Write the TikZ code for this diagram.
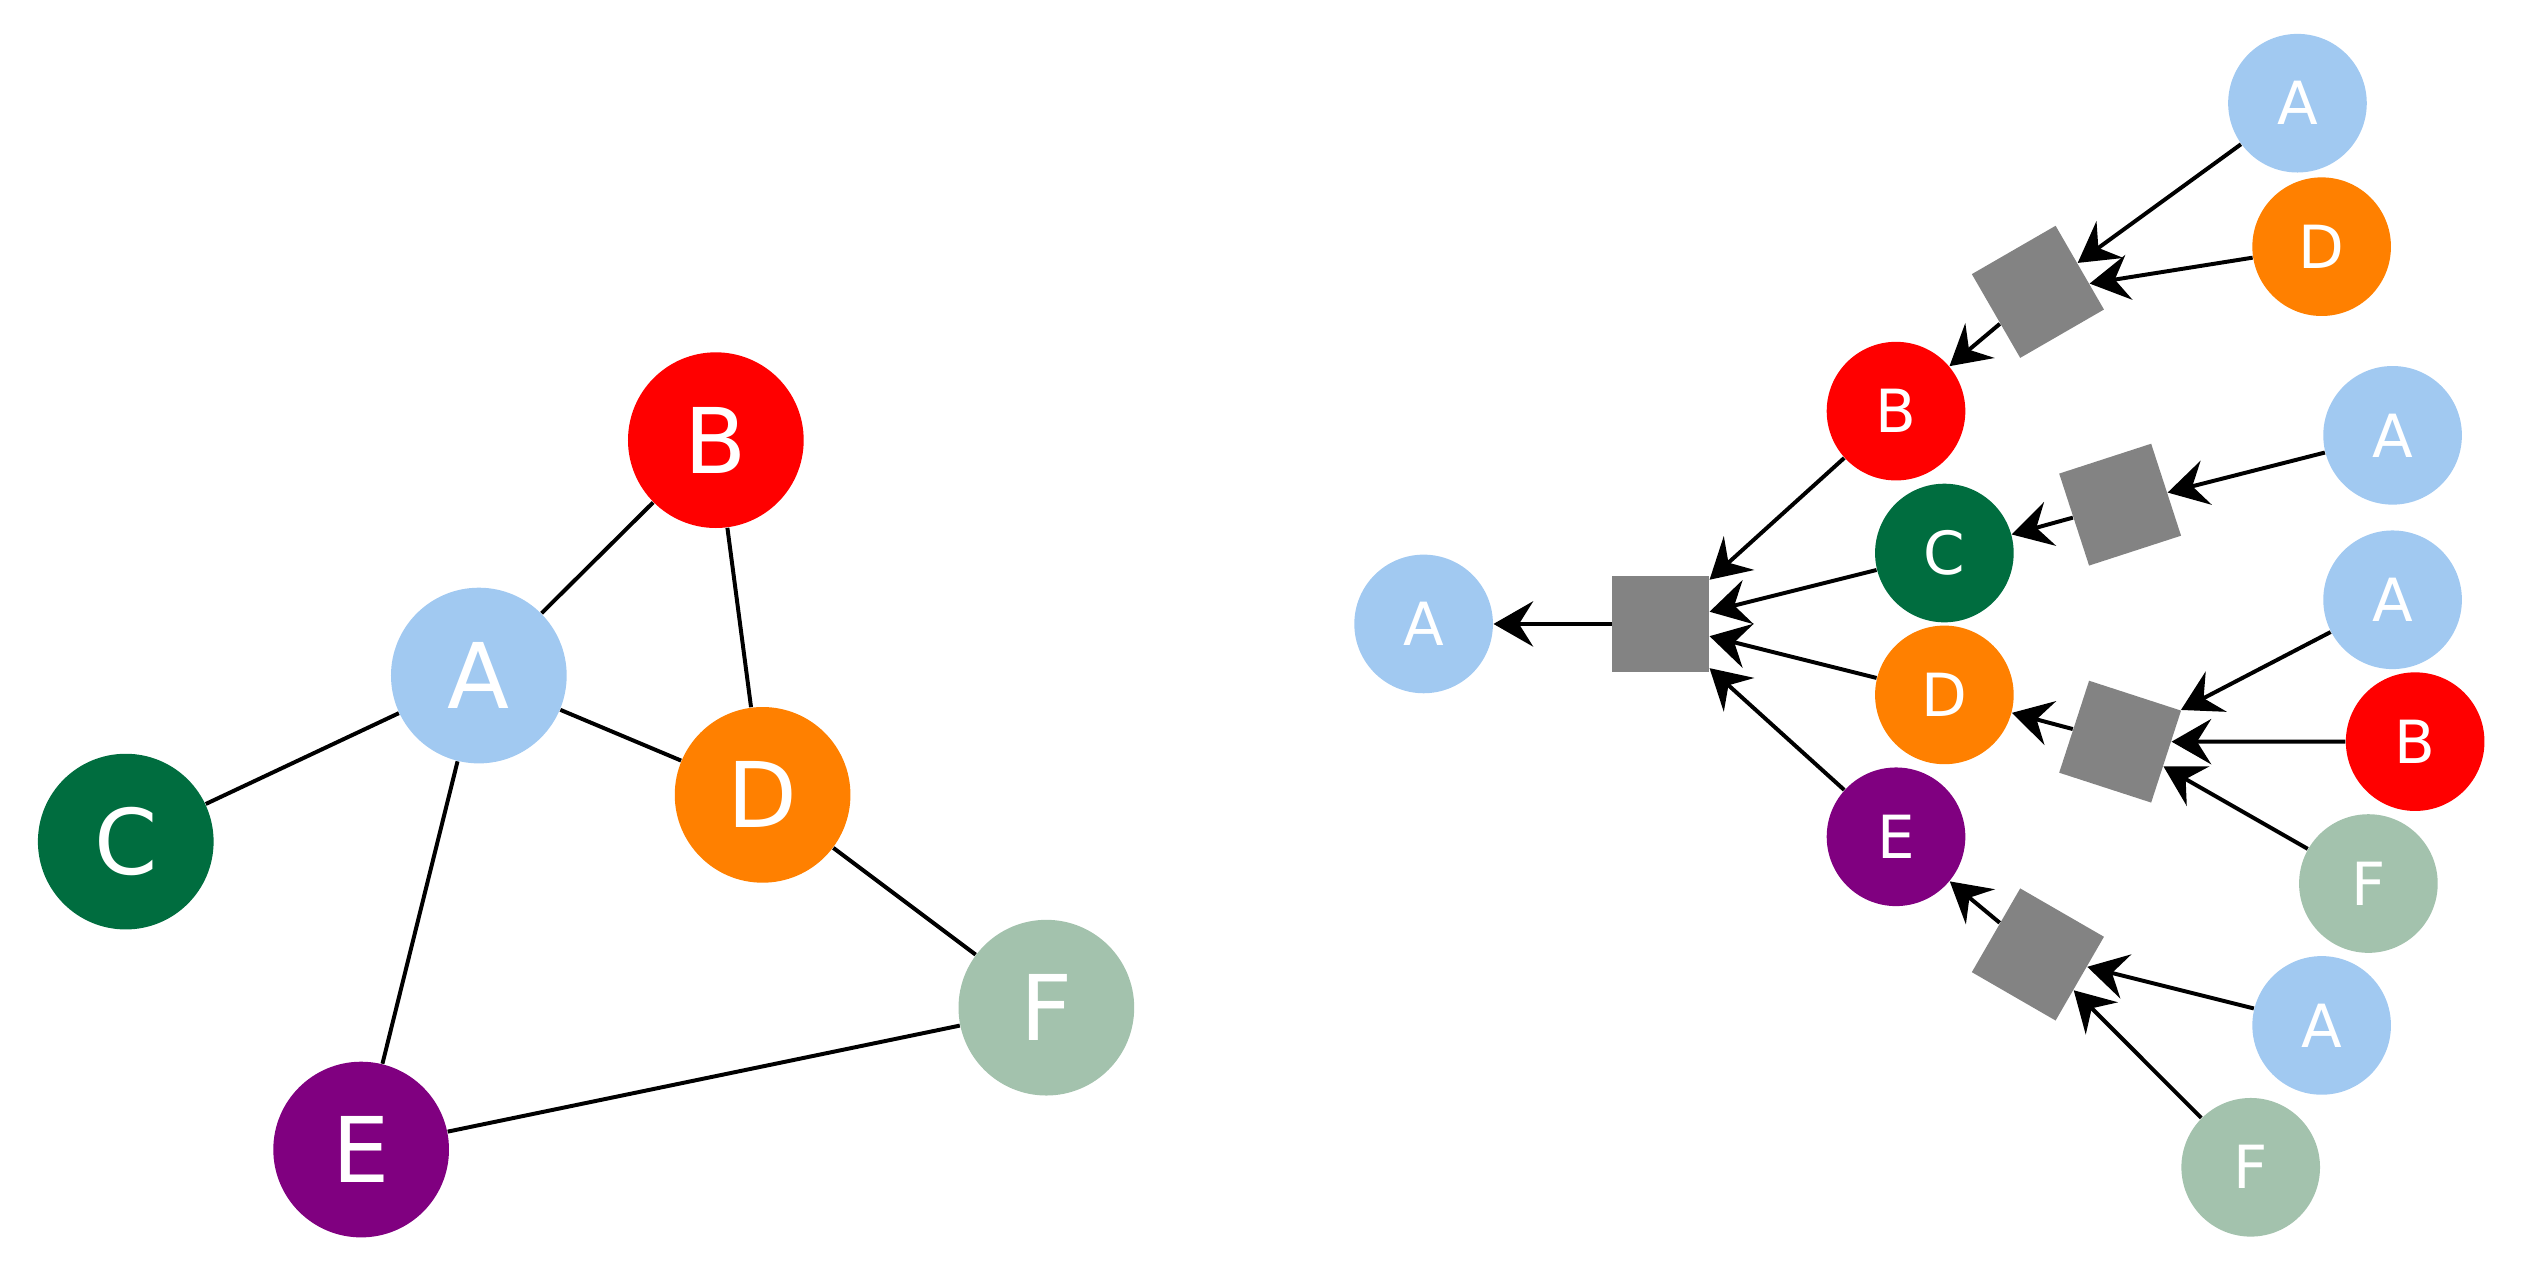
\documentclass[tikz,border=0pt]{standalone}
\usepackage{fontspec}
\setmainfont{DejaVu Sans}
\usetikzlibrary{arrows.meta}
\definecolor{cA}{HTML}{A1C9F1}
\definecolor{cB}{HTML}{FF0000}
\definecolor{cC}{HTML}{006D3F}
\definecolor{cD}{HTML}{FF8000}
\definecolor{cE}{HTML}{800080}
\definecolor{cF}{HTML}{A3C2AD}
\definecolor{cG}{HTML}{838383}
\begin{document}
\begin{tikzpicture}[x=0.02cm,y=-0.02cm,
 big/.style={circle,inner sep=0,minimum size=2.18cm,text=white,font=\fontsize{32}{32}\selectfont},
 sm/.style={circle,inner sep=0,minimum size=1.72cm,text=white,font=\fontsize{21}{21}\selectfont},
 sq/.style={rectangle,fill=cG,inner sep=0,minimum size=1.2cm},
 ed/.style={line width=1.4pt},
 ar/.style={line width=1.4pt,-{Stealth[length=14pt,width=16pt,inset=5pt]}}]
\useasboundingbox (0,0) rectangle (1568,792);
% left graph
\node[big,fill=cB] (B) at (444,273) {B};
\node[big,fill=cA] (A) at (297,419) {A};
\node[big,fill=cC] (C) at (78,522) {C};
\node[big,fill=cD] (D) at (473,493) {D};
\node[big,fill=cF] (F) at (649,625) {F};
\node[big,fill=cE] (E) at (224,713) {E};
\draw[ed] (A)--(B) (A)--(C) (A)--(D) (A)--(E) (B)--(D) (D)--(F) (E)--(F);
% right tree
\node[sm,fill=cA] (rA) at (883,387) {A};
\node[sq] (s0) at (1030,387) {};
\node[sm,fill=cB] (rB) at (1176,255) {B};
\node[sm,fill=cC] (rC) at (1206,343) {C};
\node[sm,fill=cD] (rD) at (1206,431) {D};
\node[sm,fill=cE] (rE) at (1176,519) {E};
\node[sq,rotate=30] (s1) at (1264,181) {};
\node[sq,rotate=18] (s2) at (1315,313) {};
\node[sq,rotate=-18] (s3) at (1315,460) {};
\node[sq,rotate=-30] (s4) at (1264,592) {};
\node[sm,fill=cA] (l1) at (1425,64) {A};
\node[sm,fill=cD] (l2) at (1440,153) {D};
\node[sm,fill=cA] (l3) at (1484,270) {A};
\node[sm,fill=cA] (l4) at (1484,372) {A};
\node[sm,fill=cB] (l5) at (1498,460) {B};
\node[sm,fill=cF] (l6) at (1469,548) {F};
\node[sm,fill=cA] (l7) at (1440,636) {A};
\node[sm,fill=cF] (l8) at (1396,724) {F};
\draw[ar] (s0)--(rA);
\draw[ar] (rB)--(s0);
\draw[ar] (rC)--(s0);
\draw[ar] (rD)--(s0);
\draw[ar] (rE)--(s0);
\draw[ar] (s1)--(rB);
\draw[ar] (s2)--(rC);
\draw[ar] (s3)--(rD);
\draw[ar] (s4)--(rE);
\draw[ar] (l1)--(s1);
\draw[ar] (l2)--(s1);
\draw[ar] (l3)--(s2);
\draw[ar] (l4)--(s3);
\draw[ar] (l5)--(s3);
\draw[ar] (l6)--(s3);
\draw[ar] (l7)--(s4);
\draw[ar] (l8)--(s4);
\end{tikzpicture}
\end{document}
